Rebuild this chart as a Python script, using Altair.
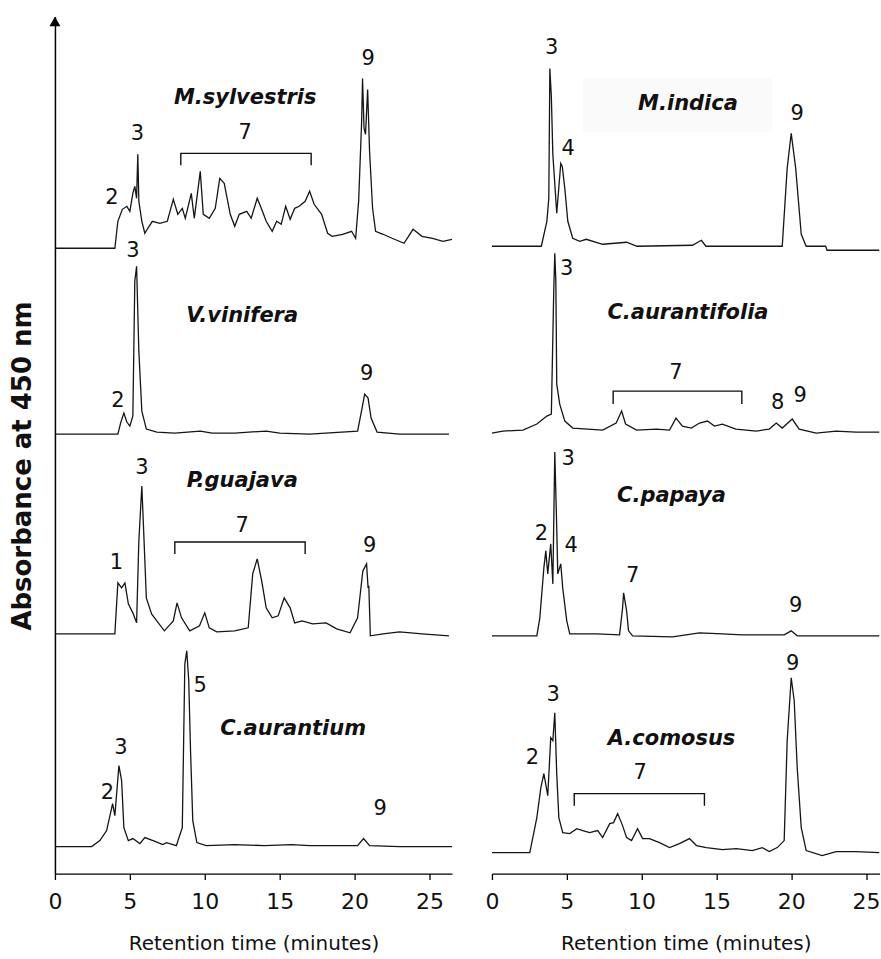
import altair as alt
import pandas as pd

# ---------------- trace data (retention time in min, signal height above own baseline) ----------------
ms_t = [0, 4.0, 4.2, 4.5, 4.8, 5.0, 5.2, 5.33, 5.45, 5.53, 5.6, 5.8, 6.0, 6.2, 6.5, 7.0, 7.5, 7.9, 8.2, 8.5,
        8.7, 9.1, 9.3, 9.7, 9.9, 10.3, 10.7, 11.0, 11.3, 11.7, 12.0, 12.3, 12.8, 13.1, 13.5, 13.8, 14.1, 14.5, 14.8, 15.1,
        15.4, 15.7, 16.0, 16.3, 16.7, 17.0, 17.3, 17.8, 18.2, 18.5, 19.2, 19.8, 20.07, 20.27, 20.47, 20.53, 20.63, 20.73, 20.87, 21.0,
        21.2, 21.4, 21.9, 22.5, 23.3, 23.9, 24.5, 25.2, 25.9, 26.5]
ms_h = [0, 0, 27, 39, 42, 37, 55, 62, 50, 94, 47, 27, 15, 20, 27, 25, 27, 49, 34, 40,
        30, 55, 30, 77, 34, 30, 40, 70, 65, 34, 22, 34, 37, 30, 50, 39, 27, 17, 27, 24,
        42, 29, 40, 42, 47, 57, 44, 34, 15, 12, 14, 17, 10, 47, 127, 170, 120, 114, 159, 97,
        40, 17, 14, 10, 5, 19, 12, 10, 7, 9]

vv_t = [0, 4.2, 4.4, 4.6, 4.8, 5.0, 5.2, 5.33, 5.45, 5.6, 5.8, 6.1, 6.8, 8.0, 9.7, 10.5, 12.0, 14.1, 15.0, 17.0,
        20.2, 20.5, 20.67, 20.9, 21.1, 21.5, 23.0, 26.3]
vv_h = [0, 0, 12, 21, 12, 8, 18, 153, 168, 83, 23, 5, 2, 1, 3, 1, 1, 3, 1, 0,
        3, 26, 40, 36, 16, 2, 0, 0]

pg_t = [0, 4.0, 4.2, 4.45, 4.67, 4.9, 5.2, 5.45, 5.6, 5.8, 5.93, 6.1, 6.45, 6.8, 7.3, 7.9, 8.15, 8.45, 9.0, 9.65,
        10.0, 10.3, 10.8, 12.0, 12.9, 13.2, 13.5, 13.8, 14.1, 14.5, 14.9, 15.3, 15.7, 16.0, 16.5, 17.2, 18.1, 18.8, 19.7, 20.2,
        20.55, 20.8, 20.9, 20.95, 21.05, 21.9, 23.0, 24.5, 26.3]
pg_h = [0, 0, 51, 46, 51, 30, 21, 11, 93, 148, 100, 36, 20, 13, 3, 13, 31, 16, 3, 8,
        21, 6, 2, 3, 6, 60, 75, 53, 26, 16, 18, 36, 26, 11, 13, 10, 11, 5, 1, 16,
        63, 70, 46, 48, -2, 0, 2, 0, -2]

ca_t = [0, 2.45, 3.0, 3.45, 3.85, 4.0, 4.27, 4.45, 4.6, 4.9, 5.2, 5.67, 6.0, 6.55, 7.2, 7.45, 8.1, 8.5, 8.67, 8.8,
        8.93, 9.05, 9.2, 9.47, 10.1, 12.0, 14.0, 15.8, 17.0, 20.2, 20.6, 21.0, 23.0, 26.5]
ca_h = [0, 0, 6, 16, 43, 31, 81, 66, 19, 6, 8, 3, 9, 6, 2, 4, 1, 19, 183, 196,
        166, 96, 26, 4, 1, 2, 1, 2, 1, 1, 8, 1, 0, 0]

mi_t = [0, 3.3, 3.67, 3.8, 3.87, 3.97, 4.07, 4.33, 4.6, 4.7, 4.87, 5.07, 5.4, 5.87, 6.3, 7.4, 9.0, 9.7, 13.4, 14.0,
        14.3, 19.4, 19.73, 20.0, 20.3, 20.67, 21.0, 22.3, 22.4, 25.9]
mi_h = [0, 0, 25, 48, 178, 150, 92, 33, 83, 80, 58, 25, 8, 5, 7, 2, 4, 0, 1, 6,
        0, 0, 78, 113, 78, 12, 0, 0, -4, -4]

caf_t = [0, 0.73, 2.07, 3.0, 3.67, 3.97, 4.13, 4.2, 4.27, 4.33, 4.53, 4.87, 5.4, 7.4, 8.3, 8.67, 8.93, 9.67, 11.0, 11.87,
         12.3, 12.73, 13.33, 13.87, 14.4, 14.87, 15.4, 16.3, 17.67, 18.53, 19.0, 19.4, 20.07, 20.53, 21.67, 23.0, 24.33, 25.9]
caf_h = [0, 2, 3, 9, 17, 19, 142, 180, 152, 49, 29, 12, 5, 3, 10, 22, 9, 3, 4, 3,
         15, 7, 5, 10, 12, 7, 9, 4, 2, 4, 10, 5, 14, 4, 0, 2, 1, 1]

cp_t = [0, 3.0, 3.2, 3.47, 3.6, 3.73, 3.93, 4.07, 4.2, 4.33, 4.4, 4.6, 4.73, 5.0, 5.2, 7.0, 8.53, 8.73, 8.8, 9.0,
        9.13, 9.4, 12.07, 13.87, 15.4, 16.73, 19.53, 20.0, 20.4, 25.9]
cp_h = [0, 0, 18, 68, 85, 62, 92, 52, 184, 108, 62, 72, 48, 15, 2, 2, 1, 28, 43, 25,
        5, 0, -1, 3, 2, 1, 1, 5, 0, 0]

ac_t = [0, 2.53, 3.0, 3.27, 3.47, 3.73, 3.93, 4.07, 4.2, 4.33, 4.47, 4.73, 5.2, 5.67, 6.07, 6.53, 7.07, 7.4, 7.87, 8.13,
        8.4, 8.73, 9.0, 9.33, 9.73, 10.07, 10.53, 11.2, 11.87, 12.53, 13.2, 13.67, 14.33, 15.4, 16.33, 17.4, 18.07, 18.53, 19.07, 19.53,
        19.73, 20.0, 20.2, 20.4, 20.67, 21.0, 22.07, 23.0, 24.33, 25.9]
ac_h = [0, 0, 35, 65, 79, 57, 115, 112, 140, 79, 35, 20, 19, 24, 22, 20, 22, 15, 29, 30,
        39, 27, 15, 12, 24, 14, 14, 10, 5, 9, 14, 7, 5, 3, 4, 2, 5, 1, 5, 12,
        112, 175, 152, 85, 25, 2, -3, 1, 1, 0]

# sample name, panel, stacking offset, series
samples = ["M.sylvestris", "V.vinifera", "P.guajava", "C.aurantium",
           "M.indica", "C.aurantifolia", "C.papaya", "A.comosus"]
panels = ["L", "L", "L", "L", "R", "R", "R", "R"]
offsets = [626, 440, 240, 27, 628, 441, 238, 21]
series_t = [ms_t, vv_t, pg_t, ca_t, mi_t, caf_t, cp_t, ac_t]
series_h = [ms_h, vv_h, pg_h, ca_h, mi_h, caf_h, cp_h, ac_h]

# species name labels (panel, time, level)
name_t = [12.7, 12.5, 12.5, 15.9, 13.1, 13.1, 12.0, 12.0]
name_v = [776, 558, 393, 145, 770, 561, 378, 135]

# peak number labels
peak_panel = ["L"] * 15 + ["R"] * 16
peak_text = ["2", "3", "7", "9", "3", "2", "9", "1", "3", "7", "9", "2", "3", "5", "9",
             "3", "4", "9", "3", "7", "8", "9", "2", "3", "4", "7", "9", "2", "3", "7", "9"]
peak_t = [3.8, 5.5, 12.7, 20.9, 5.2, 4.2, 20.8, 4.1, 5.8, 12.5, 21.0, 3.5, 4.4, 9.7, 21.7,
          4.0, 5.1, 20.4, 5.0, 12.3, 19.1, 20.6, 3.3, 5.1, 5.3, 9.4, 20.3, 2.7, 4.1, 9.9, 20.1]
peak_v = [676, 740, 741, 815, 623, 473, 500, 311, 406, 348, 328, 81, 126, 188, 65,
          826, 725, 760, 605, 501, 471, 478, 340, 415, 328, 298, 268, 116, 179, 101, 210]

# brackets for peak group 7: panel, start, end, top, bottom
br_panel = ["L", "L", "R", "R"]
br_t1 = [8.4, 8.0, 8.1, 5.5]
br_t2 = [17.1, 16.7, 16.7, 14.2]
br_top = [721, 332, 483, 80]
br_bot = [709, 320, 470, 68]

tick_vals = [0, 5, 10, 15, 20, 25]
YMAX = 858

# ---------------- tables ----------------
rows = []
for name, pan, off, ts, hs in zip(samples, panels, offsets, series_t, series_h):
    for i, (t, h) in enumerate(zip(ts, hs)):
        rows.append({"panel": pan, "sample": name, "i": i, "t": t, "v": off + h})
traces = pd.DataFrame(rows)

names = pd.DataFrame({"panel": panels, "label": samples, "t": name_t, "v": name_v})
peaks = pd.DataFrame({"panel": peak_panel, "label": peak_text, "t": peak_t, "v": peak_v})

brow = []
for k, (p, a, b, top, bot) in enumerate(zip(br_panel, br_t1, br_t2, br_top, br_bot)):
    for j, (t, v) in enumerate([(a, bot), (a, top), (b, top), (b, bot)]):
        brow.append({"panel": p, "id": k, "o": j, "t": t, "v": v})
brackets = pd.DataFrame(brow)


def panel_chart(pan, width, xmax, show_y):
    x = alt.X("t:Q", scale=alt.Scale(domain=[0, xmax], nice=False, zero=False),
              axis=alt.Axis(values=tick_vals, title="Retention time (minutes)", tickSize=6,
                            labelFontSize=22, labelPadding=12, titleFontSize=20, titlePadding=21,
                            domainWidth=1.3, tickWidth=1.3, labelFlush=False, labelOverlap=False,
                            format="d"))
    if show_y:
        yaxis = alt.Axis(title=None, labels=False, ticks=False, domain=True, domainWidth=1.5, grid=False)
    else:
        yaxis = None
    y = alt.Y("v:Q", scale=alt.Scale(domain=[0, YMAX], nice=False, zero=False), axis=yaxis)

    lines = alt.Chart(traces[traces.panel == pan]).mark_line(
        color="#151515", strokeWidth=1.3, clip=True
    ).encode(x=x, y=y, detail="sample:N", order="i:Q")

    brk = alt.Chart(brackets[brackets.panel == pan]).mark_line(
        color="#111111", strokeWidth=1.4
    ).encode(x=x, y=y, detail="id:N", order="o:Q")

    nm = alt.Chart(names[names.panel == pan]).mark_text(
        font="DejaVu Sans", fontSize=21, fontWeight="bold", fontStyle="italic",
        color="#111111", align="center", baseline="middle"
    ).encode(x=x, y=y, text="label:N")

    pk = alt.Chart(peaks[peaks.panel == pan]).mark_text(
        font="DejaVu Sans", fontSize=21, color="#111111", align="center", baseline="middle"
    ).encode(x=x, y=y, text="label:N")

    layers = []
    if pan == "R":
        box = alt.Chart(pd.DataFrame({"t": [6.07], "t2": [18.7], "v": [743], "v2": [796]})).mark_rect(
            color="#fafafa"
        ).encode(x=x, x2="t2:Q", y=y, y2="v2:Q")
        layers.append(box)
    layers += [lines, brk, nm, pk]
    if show_y:
        arrow = alt.Chart(pd.DataFrame({"t": [0], "v": [853]})).mark_point(
            shape="triangle-up", filled=True, size=120, color="black", opacity=1
        ).encode(x=x, y=y)
        ytitle = alt.Chart(pd.DataFrame({"a": [0]})).mark_text(
            text="Absorbance at 450 nm", angle=270, font="DejaVu Sans", fontWeight="bold",
            fontSize=26, color="#111111", align="center", baseline="middle"
        ).encode(x=alt.value(-32), y=alt.value(450))
        layers += [arrow, ytitle]
    return alt.layer(*layers).properties(width=width, height=YMAX)


left = panel_chart("L", 397.5, 26.5, True)
right = panel_chart("R", 388, 25.9, False)

chart = alt.hconcat(left, right, spacing=39.5, bounds="flush").properties(
    padding={"left": 10, "top": 16, "right": 0, "bottom": 2}
).configure_view(stroke=None).configure_axis(
    domainColor="black", tickColor="black", labelColor="#111111", titleColor="#111111",
    grid=False, labelFont="DejaVu Sans", titleFont="DejaVu Sans", titleFontWeight="normal"
)

chart.save("out.html", embed_options={"renderer": "svg", "actions": False})
